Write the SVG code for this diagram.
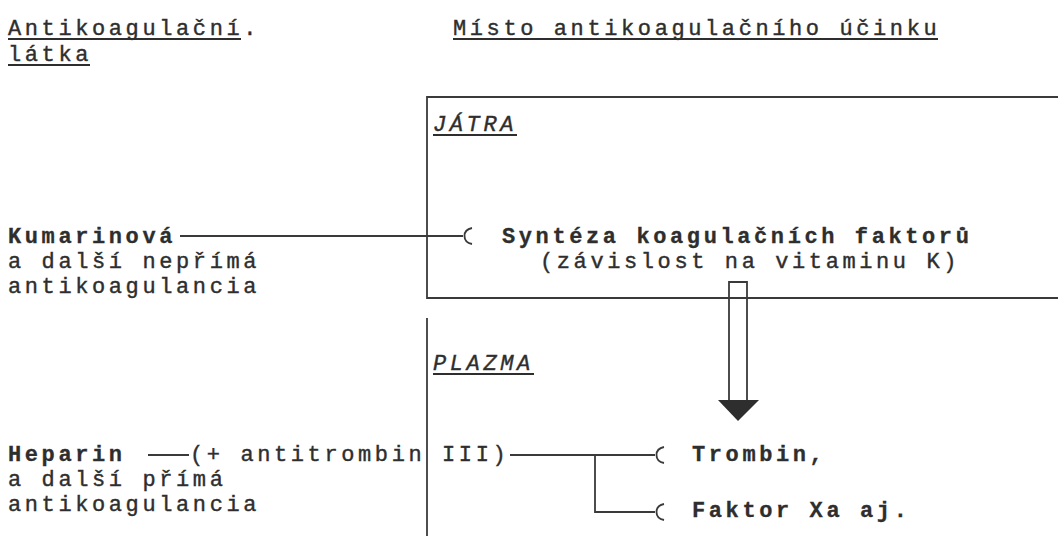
<svg xmlns="http://www.w3.org/2000/svg" width="1058" height="536" viewBox="0 0 1058 536">
<style>
text{font-family:"Liberation Mono","DejaVu Sans Mono",monospace;font-size:22px;letter-spacing:3.6px;fill:#2e2e2e;stroke:#2e2e2e;stroke-width:0.4px}
.b{font-weight:bold;stroke-width:0.3px}
.i{font-style:italic}
.ln{stroke:#3a3a3a;stroke-width:1.8;fill:none}
.ul{stroke:#2e2e2e;stroke-width:1.8}
</style>
<rect width="1058" height="536" fill="#ffffff"/>
<g id="hdr-left">
<text x="8" y="35">Antikoagulační.</text>
<line class="ul" x1="8" y1="39" x2="241" y2="39"/>
<text x="8" y="61">látka</text>
<line class="ul" x1="8" y1="65" x2="90" y2="65"/>
</g>
<g id="hdr-right">
<text x="453" y="35">Místo antikoagulačního účinku</text>
<line class="ul" x1="453" y1="39" x2="938" y2="39"/>
</g>
<g id="jatra">
<path class="ln" d="M1058 97 H427 V298 H1058"/>
<text class="i" x="433" y="131">JÁTRA</text>
<line class="ul" x1="433" y1="135" x2="517" y2="135"/>
</g>
<g id="synteza">
<text class="b" x="502" y="243">Syntéza koagulačních faktorů</text>
<text x="540" y="268">(závislost na vitaminu K)</text>
</g>
<g id="kumarin">
<text class="b" x="8" y="243">Kumarinová</text>
<text x="8" y="268">a další nepřímá</text>
<text x="8" y="293">antikoagulancia</text>
</g>
<g id="plazma">
<line class="ln" x1="427" y1="318" x2="427" y2="536"/>
<text class="i" x="433" y="370">PLAZMA</text>
<line class="ul" x1="433" y1="374" x2="534" y2="374"/>
</g>
<g id="heparin">
<text class="b" x="8" y="461">Heparin</text>
<text x="190" y="461">(+ antitrombin III)</text>
<text x="8" y="486">a další přímá</text>
<text x="8" y="511">antikoagulancia</text>
</g>
<g id="trombin">
<text class="b" x="692" y="461">Trombin,</text>
</g>
<g id="faktor">
<text class="b" x="692" y="517">Faktor Xa aj.</text>
</g>
<g id="connectors">
<path class="ln" d="M180 236 H463"/>
<path class="ln" d="M472 228 C462 230 462 242 472 244"/>
<path class="ln" d="M148 455 H189"/>
<path class="ln" d="M510 455 H655"/>
<path class="ln" d="M664 447 C654 449 654 461 664 463"/>
<path class="ln" d="M595 455 V512 H655"/>
<path class="ln" d="M664 504 C654 506 654 518 664 520"/>
<path class="ln" d="M729 400 V282 H747 V400"/>
<polygon points="718,400 759,400 738,421" fill="#2e2e2e"/>
</g>
</svg>
